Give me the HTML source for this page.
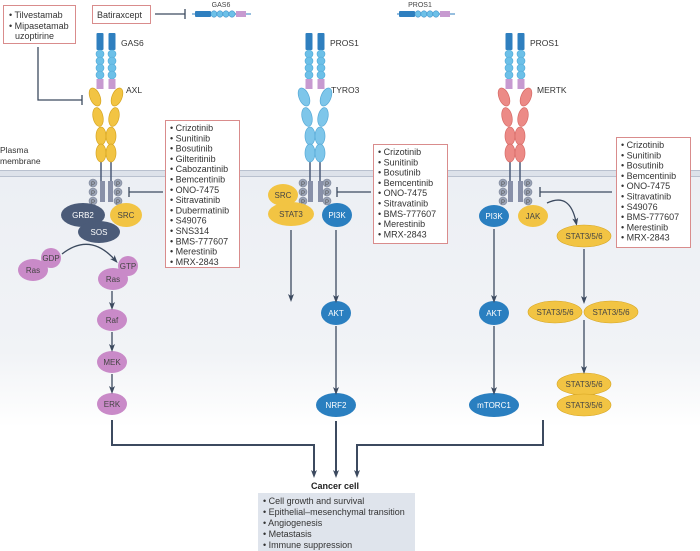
<!DOCTYPE html>
<html><head><meta charset="utf-8"><style>
html,body{margin:0;padding:0;background:#fff;}
svg{display:block;font-family:"Liberation Sans",sans-serif;}
.d{font-size:9px;fill:#333;}
.w{font-size:8px;fill:#fff;text-anchor:middle;}
.k{font-size:8px;fill:#444;text-anchor:middle;}
.l{font-size:8.5px;fill:#333;}
</style></head><body>
<svg width="700" height="551" viewBox="0 0 700 551" xmlns="http://www.w3.org/2000/svg">
<defs>
<linearGradient id="bg" x1="0" y1="0" x2="0" y2="1">
<stop offset="0" stop-color="#eceff4"/><stop offset="0.7" stop-color="#f1f3f6"/><stop offset="1" stop-color="#fff"/>
</linearGradient>
<marker id="ar" markerWidth="8" markerHeight="8" refX="4" refY="4" orient="auto" markerUnits="userSpaceOnUse"><path d="M0,1 L8,4 L0,7 L2,4z" fill="#3c4a5f"/></marker>
<g id="lig">
<rect x="-3.5" y="33" width="7" height="17" rx="1" fill="#2f7fbf"/>
<circle cx="0" cy="54" r="4" fill="#6cc0e8" stroke="#4fa8d6" stroke-width="0.6"/>
<circle cx="0" cy="61" r="4" fill="#6cc0e8" stroke="#4fa8d6" stroke-width="0.6"/>
<circle cx="0" cy="68" r="4" fill="#6cc0e8" stroke="#4fa8d6" stroke-width="0.6"/>
<circle cx="0" cy="75" r="4" fill="#6cc0e8" stroke="#4fa8d6" stroke-width="0.6"/>
<rect x="-3.5" y="79" width="7" height="10" fill="#c79ad0"/>
</g>
<g id="pp">
<circle cx="0" cy="183" r="4" fill="#9aa3b5" stroke="#7d869a" stroke-width="0.6"/>
<circle cx="0" cy="192" r="4" fill="#9aa3b5" stroke="#7d869a" stroke-width="0.6"/>
<circle cx="0" cy="201" r="4" fill="#9aa3b5" stroke="#7d869a" stroke-width="0.6"/>
<text x="0" y="186" font-size="6" fill="#555" text-anchor="middle">P</text>
<text x="0" y="195" font-size="6" fill="#555" text-anchor="middle">P</text>
<text x="0" y="204" font-size="6" fill="#555" text-anchor="middle">P</text>
</g>
</defs>
<rect x="0" y="177" width="700" height="250" fill="url(#bg)"/>
<rect x="0" y="170" width="700" height="7" fill="#dde2ea"/>
<line x1="0" y1="170.5" x2="700" y2="170.5" stroke="#b9c1cf" stroke-width="1"/>
<line x1="0" y1="176.5" x2="700" y2="176.5" stroke="#b9c1cf" stroke-width="1"/>
<text class="l" x="0" y="153">Plasma</text>
<text class="l" x="0" y="164">membrane</text>

<!-- top boxes -->
<rect x="3.5" y="5.5" width="72" height="38" fill="#fff" stroke="#d98c8c"/>
<text class="d" x="9" y="18">• Tilvestamab</text>
<text class="d" x="9" y="29">• Mipasetamab</text>
<text class="d" x="15" y="39">uzoptirine</text>
<path d="M38,47 V100 H82" fill="none" stroke="#3c4a5f" stroke-width="1.3"/>
<line x1="82" y1="95" x2="82" y2="105" stroke="#3c4a5f" stroke-width="1.3"/>
<rect x="92.5" y="5.5" width="58" height="18" fill="#fff" stroke="#d98c8c"/>
<text class="d" x="97" y="18">Batiraxcept</text>
<line x1="155" y1="14" x2="185" y2="14" stroke="#3c4a5f" stroke-width="1.3"/>
<line x1="185" y1="9" x2="185" y2="19" stroke="#3c4a5f" stroke-width="1.3"/>
<g>
<line x1="192" y1="14" x2="251" y2="14" stroke="#2f7fbf"/>
<rect x="195" y="11" width="16" height="6" rx="1" fill="#2f7fbf"/>
<circle cx="214" cy="14" r="3.2" fill="#6cc0e8" stroke="#2f7fbf" stroke-width="0.5"/>
<circle cx="220" cy="14" r="3.2" fill="#6cc0e8" stroke="#2f7fbf" stroke-width="0.5"/>
<circle cx="226" cy="14" r="3.2" fill="#6cc0e8" stroke="#2f7fbf" stroke-width="0.5"/>
<circle cx="232" cy="14" r="3.2" fill="#6cc0e8" stroke="#2f7fbf" stroke-width="0.5"/>
<rect x="236" y="11" width="10" height="6" fill="#c79ad0"/>
<text x="221" y="7" font-size="7" fill="#444" text-anchor="middle">GAS6</text>
</g>
<g>
<line x1="397" y1="14" x2="455" y2="14" stroke="#2f7fbf"/>
<rect x="399" y="11" width="16" height="6" rx="1" fill="#2f7fbf"/>
<circle cx="418" cy="14" r="3.2" fill="#6cc0e8" stroke="#2f7fbf" stroke-width="0.5"/>
<circle cx="424" cy="14" r="3.2" fill="#6cc0e8" stroke="#2f7fbf" stroke-width="0.5"/>
<circle cx="430" cy="14" r="3.2" fill="#6cc0e8" stroke="#2f7fbf" stroke-width="0.5"/>
<circle cx="436" cy="14" r="3.2" fill="#6cc0e8" stroke="#2f7fbf" stroke-width="0.5"/>
<rect x="440" y="11" width="10" height="6" fill="#c79ad0"/>
<text x="420" y="7" font-size="7" fill="#444" text-anchor="middle">PROS1</text>
</g>

<!-- AXL receptor cx=106 -->
<g transform="translate(100,0)"><use href="#lig"/></g>
<g transform="translate(112,0)"><use href="#lig"/></g>
<text class="l" x="121" y="46">GAS6</text>
<text class="l" x="126" y="93">AXL</text>
<g fill="#f2c443" stroke="#d6a521" stroke-width="0.7">
<line x1="101" y1="160" x2="101" y2="184" stroke="#4b5b78" stroke-width="1.5"/>
<line x1="111" y1="160" x2="111" y2="184" stroke="#4b5b78" stroke-width="1.5"/>
<ellipse cx="95" cy="97" rx="5" ry="9.5" transform="rotate(-22 95 97)"/>
<ellipse cx="117" cy="97" rx="5" ry="9.5" transform="rotate(22 117 97)"/>
<ellipse cx="98" cy="117" rx="5" ry="9.5" transform="rotate(-12 98 117)"/>
<ellipse cx="114" cy="117" rx="5" ry="9.5" transform="rotate(12 114 117)"/>
<ellipse cx="101" cy="136" rx="5" ry="9"/>
<ellipse cx="111" cy="136" rx="5" ry="9"/>
<ellipse cx="101" cy="153" rx="5" ry="9"/>
<ellipse cx="111" cy="153" rx="5" ry="9"/>
</g>
<rect x="100" y="181" width="5" height="21" fill="#8890a8"/>
<rect x="108" y="181" width="5" height="21" fill="#8890a8"/>
<g transform="translate(93,0)"><use href="#pp"/></g>
<g transform="translate(118,0)"><use href="#pp"/></g>
<ellipse cx="83" cy="215" rx="22" ry="12" fill="#4b5b78"/><text class="w" x="83" y="218">GRB2</text>
<ellipse cx="126" cy="215" rx="16" ry="12" fill="#f2c443"/><text class="k" x="126" y="218">SRC</text>
<ellipse cx="99" cy="232" rx="21" ry="11" fill="#4b5b78"/><text class="w" x="99" y="235">SOS</text>
<path d="M62,254 Q90,232 115,260" fill="none" stroke="#3c4a5f" stroke-width="1.3" marker-end="url(#ar)"/>
<g fill="#c98ac8">
<ellipse cx="33" cy="270" rx="15" ry="11"/><circle cx="51" cy="258" r="10"/>
<ellipse cx="113" cy="279" rx="15" ry="11"/><circle cx="128" cy="266" r="10"/>
<ellipse cx="112" cy="320" rx="15" ry="11"/>
<ellipse cx="112" cy="362" rx="15" ry="11"/>
<ellipse cx="112" cy="404" rx="15" ry="11"/>
</g>
<g class="k" style="fill:#553355">
<text x="33" y="273" class="k">Ras</text><text x="51" y="261" class="k">GDP</text>
<text x="113" y="282" class="k">Ras</text><text x="128" y="269" class="k">GTP</text>
<text x="112" y="323" class="k">Raf</text><text x="112" y="365" class="k">MEK</text><text x="112" y="407" class="k">ERK</text>
</g>
<g stroke="#3c4a5f" stroke-width="1.3" fill="none">
<line x1="112" y1="291" x2="112" y2="306" marker-end="url(#ar)"/>
<line x1="112" y1="332" x2="112" y2="348" marker-end="url(#ar)"/>
<line x1="112" y1="374" x2="112" y2="390" marker-end="url(#ar)"/>
<path d="M112,420 V445 H314 V474" stroke-width="2" marker-end="url(#ar)"/>
</g>
<rect x="165.5" y="120.5" width="74" height="147" fill="#fff" stroke="#d98c8c"/>
<g class="d">
<text x="170" y="131">• Crizotinib</text><text x="170" y="141.3">• Sunitinib</text><text x="170" y="151.6">• Bosutinib</text>
<text x="170" y="161.9">• Gilteritinib</text><text x="170" y="172.2">• Cabozantinib</text><text x="170" y="182.5">• Bemcentinib</text>
<text x="170" y="192.8">• ONO-7475</text><text x="170" y="203.1">• Sitravatinib</text><text x="170" y="213.4">• Dubermatinib</text>
<text x="170" y="223.7">• S49076</text><text x="170" y="234">• SNS314</text><text x="170" y="244.3">• BMS-777607</text>
<text x="170" y="254.6">• Merestinib</text><text x="170" y="264.9">• MRX-2843</text>
</g>
<line x1="163" y1="192" x2="129" y2="192" stroke="#3c4a5f" stroke-width="1.3"/>
<line x1="129" y1="187" x2="129" y2="197" stroke="#3c4a5f" stroke-width="1.3"/>

<!-- TYRO3 cx=315 -->
<g transform="translate(309,0)"><use href="#lig"/></g>
<g transform="translate(321,0)"><use href="#lig"/></g>
<text class="l" x="330" y="46">PROS1</text>
<text class="l" x="331" y="93">TYRO3</text>
<g fill="#7ec6ea" stroke="#56a9d6" stroke-width="0.7">
<line x1="310" y1="160" x2="310" y2="184" stroke="#4b5b78" stroke-width="1.5"/>
<line x1="320" y1="160" x2="320" y2="184" stroke="#4b5b78" stroke-width="1.5"/>
<ellipse cx="304" cy="97" rx="5" ry="9.5" transform="rotate(-22 304 97)"/>
<ellipse cx="326" cy="97" rx="5" ry="9.5" transform="rotate(22 326 97)"/>
<ellipse cx="307" cy="117" rx="5" ry="9.5" transform="rotate(-12 307 117)"/>
<ellipse cx="323" cy="117" rx="5" ry="9.5" transform="rotate(12 323 117)"/>
<ellipse cx="310" cy="136" rx="5" ry="9"/><ellipse cx="320" cy="136" rx="5" ry="9"/>
<ellipse cx="310" cy="153" rx="5" ry="9"/><ellipse cx="320" cy="153" rx="5" ry="9"/>
</g>
<rect x="308" y="181" width="5" height="21" fill="#8890a8"/>
<rect x="318" y="181" width="5" height="21" fill="#8890a8"/>
<g transform="translate(303,0)"><use href="#pp"/></g>
<g transform="translate(327,0)"><use href="#pp"/></g>
<ellipse cx="291" cy="214" rx="23" ry="12" fill="#f2c443"/><text class="k" x="291" y="217">STAT3</text>
<ellipse cx="283" cy="195" rx="15" ry="11" fill="#f2c443"/><text class="k" x="283" y="198">SRC</text>
<ellipse cx="337" cy="215" rx="15" ry="12" fill="#2a7fc0"/><text class="w" x="337" y="218">PI3K</text>
<ellipse cx="336" cy="313" rx="15" ry="12" fill="#2a7fc0"/><text class="w" x="336" y="316">AKT</text>
<ellipse cx="336" cy="405" rx="20" ry="12" fill="#2a7fc0"/><text class="w" x="336" y="408">NRF2</text>
<g stroke="#3c4a5f" stroke-width="1.3" fill="none">
<line x1="291" y1="230" x2="291" y2="298" marker-end="url(#ar)"/>
<line x1="336" y1="230" x2="336" y2="299" marker-end="url(#ar)"/>
<line x1="336" y1="326" x2="336" y2="391" marker-end="url(#ar)"/>
<line x1="336" y1="421" x2="336" y2="474" stroke-width="2" marker-end="url(#ar)"/>
</g>
<rect x="373.5" y="144.5" width="74" height="99" fill="#fff" stroke="#d98c8c"/>
<g class="d">
<text x="378" y="155">• Crizotinib</text><text x="378" y="165.3">• Sunitinib</text><text x="378" y="175.6">• Bosutinib</text>
<text x="378" y="185.9">• Bemcentinib</text><text x="378" y="196.2">• ONO-7475</text><text x="378" y="206.5">• Sitravatinib</text>
<text x="378" y="216.8">• BMS-777607</text><text x="378" y="227.1">• Merestinib</text><text x="378" y="237.4">• MRX-2843</text>
</g>
<line x1="371" y1="192" x2="337" y2="192" stroke="#3c4a5f" stroke-width="1.3"/>
<line x1="337" y1="187" x2="337" y2="197" stroke="#3c4a5f" stroke-width="1.3"/>

<!-- MERTK cx=515 -->
<g transform="translate(509,0)"><use href="#lig"/></g>
<g transform="translate(521,0)"><use href="#lig"/></g>
<text class="l" x="530" y="46">PROS1</text>
<text class="l" x="537" y="93">MERTK</text>
<g fill="#ec8a86" stroke="#d66a66" stroke-width="0.7">
<line x1="510" y1="160" x2="510" y2="184" stroke="#4b5b78" stroke-width="1.5"/>
<line x1="520" y1="160" x2="520" y2="184" stroke="#4b5b78" stroke-width="1.5"/>
<ellipse cx="504" cy="97" rx="5" ry="9.5" transform="rotate(-22 504 97)"/>
<ellipse cx="526" cy="97" rx="5" ry="9.5" transform="rotate(22 526 97)"/>
<ellipse cx="507" cy="117" rx="5" ry="9.5" transform="rotate(-12 507 117)"/>
<ellipse cx="523" cy="117" rx="5" ry="9.5" transform="rotate(12 523 117)"/>
<ellipse cx="510" cy="136" rx="5" ry="9"/><ellipse cx="520" cy="136" rx="5" ry="9"/>
<ellipse cx="510" cy="153" rx="5" ry="9"/><ellipse cx="520" cy="153" rx="5" ry="9"/>
</g>
<rect x="508" y="181" width="5" height="21" fill="#8890a8"/>
<rect x="518" y="181" width="5" height="21" fill="#8890a8"/>
<g transform="translate(503,0)"><use href="#pp"/></g>
<g transform="translate(528,0)"><use href="#pp"/></g>
<ellipse cx="494" cy="216" rx="15" ry="11" fill="#2a7fc0"/><text class="w" x="494" y="219">PI3K</text>
<ellipse cx="533" cy="216" rx="15" ry="11" fill="#f2c443"/><text class="k" x="533" y="219">JAK</text>
<path d="M547,203 Q570,192 576,222" fill="none" stroke="#3c4a5f" stroke-width="1.3" marker-end="url(#ar)"/>
<g fill="#f2c443" stroke="#d6a521" stroke-width="0.6">
<ellipse cx="584" cy="236" rx="27" ry="11"/>
<ellipse cx="555" cy="312" rx="27" ry="11"/><ellipse cx="611" cy="312" rx="27" ry="11"/>
<ellipse cx="584" cy="384" rx="27" ry="11"/><ellipse cx="584" cy="405" rx="27" ry="11"/>
</g>
<g class="k">
<text x="584" y="239">STAT3/5/6</text><text x="555" y="315">STAT3/5/6</text><text x="611" y="315">STAT3/5/6</text>
<text x="584" y="387">STAT3/5/6</text><text x="584" y="408">STAT3/5/6</text>
</g>
<ellipse cx="494" cy="313" rx="15" ry="12" fill="#2a7fc0"/><text class="w" x="494" y="316">AKT</text>
<ellipse cx="494" cy="405" rx="25" ry="12" fill="#2a7fc0"/><text class="w" x="494" y="408">mTORC1</text>
<g stroke="#3c4a5f" stroke-width="1.3" fill="none">
<line x1="494" y1="229" x2="494" y2="299" marker-end="url(#ar)"/>
<line x1="494" y1="326" x2="494" y2="391" marker-end="url(#ar)"/>
<line x1="584" y1="249" x2="584" y2="300" marker-end="url(#ar)"/>
<line x1="584" y1="320" x2="584" y2="370" marker-end="url(#ar)"/>
<path d="M543,420 V445 H357 V474" stroke-width="2" marker-end="url(#ar)"/>
</g>
<rect x="616.5" y="137.5" width="74" height="110" fill="#fff" stroke="#d98c8c"/>
<g class="d">
<text x="621" y="148">• Crizotinib</text><text x="621" y="158.3">• Sunitinib</text><text x="621" y="168.6">• Bosutinib</text>
<text x="621" y="178.9">• Bemcentinib</text><text x="621" y="189.2">• ONO-7475</text><text x="621" y="199.5">• Sitravatinib</text>
<text x="621" y="209.8">• S49076</text><text x="621" y="220.1">• BMS-777607</text><text x="621" y="230.4">• Merestinib</text>
<text x="621" y="240.7">• MRX-2843</text>
</g>
<line x1="612" y1="192" x2="540" y2="192" stroke="#3c4a5f" stroke-width="1.3"/>
<line x1="540" y1="187" x2="540" y2="197" stroke="#3c4a5f" stroke-width="1.3"/>

<!-- cancer cell -->
<text x="335" y="489" font-size="9" font-weight="bold" fill="#222" text-anchor="middle">Cancer cell</text>
<rect x="258" y="493" width="157" height="58" fill="#dfe4ec"/>
<g class="d">
<text x="263" y="504">• Cell growth and survival</text>
<text x="263" y="515">• Epithelial–mesenchymal transition</text>
<text x="263" y="526">• Angiogenesis</text>
<text x="263" y="537">• Metastasis</text>
<text x="263" y="548">• Immune suppression</text>
</g>
</svg>
</body></html>
